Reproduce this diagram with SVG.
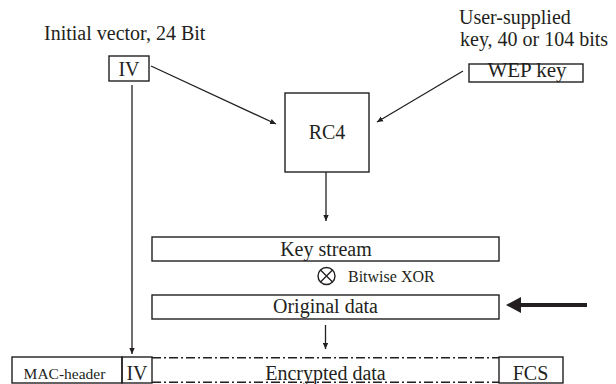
<svg xmlns="http://www.w3.org/2000/svg" width="616" height="384" viewBox="0 0 616 384">
<style>
text{font-family:"Liberation Serif","Times New Roman",serif;fill:#231f20;font-size:20px}
.c{text-anchor:middle}
.sm{font-size:16px}
.mac{font-size:15.5px}
.wep{font-size:21px}
.box{fill:none;stroke:#231f20;stroke-width:1.4}
.ln{fill:none;stroke:#231f20;stroke-width:1.3}
.dd{fill:none;stroke:#231f20;stroke-width:1.4;stroke-dasharray:9 3 2 3}
</style>
<defs>
<marker id="ah" viewBox="0 0 10 10" refX="10" refY="5" markerWidth="6" markerHeight="6" markerUnits="userSpaceOnUse" orient="auto"><path d="M0,0.5 L10,5 L0,9.5 Z" fill="#231f20"/></marker>
</defs>
<rect width="616" height="384" fill="#fff"/>
<g id="label-iv"><text x="44" y="40">Initial vector, 24 Bit</text></g>
<g id="label-key"><text x="459" y="24">User-supplied</text><text x="460" y="46">key, 40 or 104 bits</text></g>
<g id="iv"><rect class="box" x="109" y="56" width="40" height="25"/><text class="c" x="129" y="76">IV</text></g>
<g id="wepkey"><rect class="box" x="469" y="64" width="114" height="18"/><text class="c wep" x="527" y="77">WEP key</text></g>
<g id="rc4"><rect class="box" x="285" y="93" width="84" height="79"/><text class="c" x="327" y="139">RC4</text></g>
<g id="keystream"><rect class="box" x="152" y="237" width="347" height="24"/><text class="c" x="326" y="256">Key stream</text></g>
<g id="xor"><circle cx="326.5" cy="276" r="8.5" class="box"/><path class="ln" d="M320.5,270 L332.5,282 M332.5,270 L320.5,282"/><text class="sm" x="348" y="282">Bitwise XOR</text></g>
<g id="original"><rect class="box" x="152" y="295" width="347" height="24"/><text class="c" x="325.5" y="313">Original data</text></g>
<g id="frame">
<rect class="box" x="12" y="357" width="110" height="26"/><text class="c mac" x="64.5" y="379">MAC-header</text>
<rect class="box" x="122" y="357" width="30" height="26"/><text class="c" x="137" y="380">IV</text>
<path class="dd" d="M152,357.7 H499 M152,382.3 H499"/><text class="c" x="325.5" y="380">Encrypted data</text>
<rect class="box" x="499" y="357" width="64" height="26"/><text class="c" x="530.5" y="380">FCS</text>
</g>
<g id="connectors">
<line class="ln" x1="151" y1="66" x2="276" y2="124" marker-end="url(#ah)"/>
<line class="ln" x1="463" y1="71" x2="377" y2="122" marker-end="url(#ah)"/>
<line class="ln" x1="132" y1="85" x2="132" y2="354" marker-end="url(#ah)"/>
<line class="ln" x1="326" y1="172" x2="326" y2="221" marker-end="url(#ah)"/>
<line class="ln" x1="325.5" y1="325" x2="325.5" y2="349" marker-end="url(#ah)"/>
<path d="M587,303 H521 V297 L506,305 L521,313 V307 H587 Z" fill="#231f20"/>
</g>
</svg>
